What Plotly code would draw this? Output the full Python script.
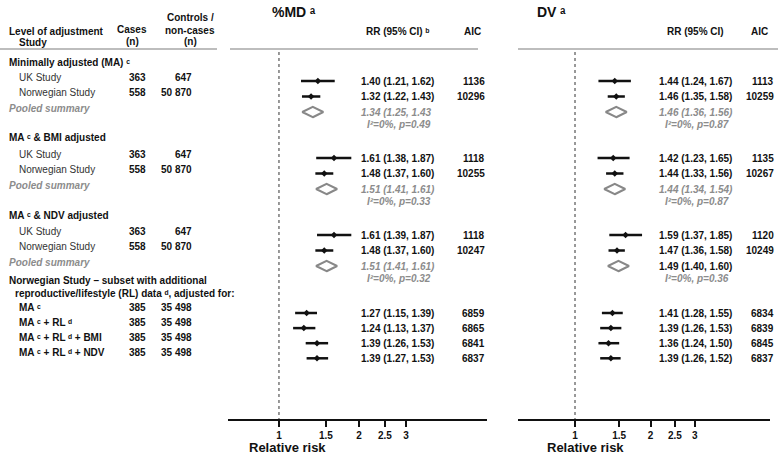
import plotly.graph_objects as go

W, H = 778, 455

# ---------------- data ----------------
group_titles = ["Minimally adjusted (MA) \u1d9c",
                "MA \u1d9c & BMI adjusted",
                "MA \u1d9c & NDV adjusted"]
study_names = ["UK Study", "Norwegian Study"]
study_cases = ["363", "558"]
study_controls = ["647", "50 870"]

subset_title_1 = "Norwegian Study \u2013 subset with additional"
subset_title_2 = "reproductive/lifestyle (RL) data \u1d48, adjusted for:"
subset_names = ["MA \u1d9c", "MA \u1d9c + RL \u1d48",
                "MA \u1d9c + RL \u1d48 + BMI", "MA \u1d9c + RL \u1d48 + NDV"]
subset_cases = ["385", "385", "385", "385"]
subset_controls = ["35 498", "35 498", "35 498", "35 498"]

# %MD : per group [UK, Norwegian]
md_rr = [[1.40, 1.32], [1.61, 1.48], [1.61, 1.48]]
md_lo = [[1.21, 1.22], [1.38, 1.37], [1.39, 1.37]]
md_hi = [[1.62, 1.43], [1.87, 1.60], [1.87, 1.60]]
md_aic = [["1136", "10296"], ["1118", "10255"], ["1118", "10247"]]
md_pool_rr = [1.34, 1.51, 1.51]
md_pool_lo = [1.25, 1.41, 1.41]
md_pool_hi = [1.43, 1.61, 1.61]
md_pool_txt = ["1.34 (1.25, 1.43", "1.51 (1.41, 1.61)", "1.51 (1.41, 1.61)"]
md_pool_het = ["I\u00b2=0%, p=0.49", "I\u00b2=0%, p=0.33", "I\u00b2=0%, p=0.32"]
md_sub_rr = [1.27, 1.24, 1.39, 1.39]
md_sub_lo = [1.15, 1.13, 1.26, 1.27]
md_sub_hi = [1.39, 1.37, 1.53, 1.53]
md_sub_aic = ["6859", "6865", "6841", "6837"]

# DV
dv_rr = [[1.44, 1.46], [1.42, 1.44], [1.59, 1.47]]
dv_lo = [[1.24, 1.35], [1.23, 1.33], [1.37, 1.36]]
dv_hi = [[1.67, 1.58], [1.65, 1.56], [1.85, 1.58]]
dv_aic = [["1113", "10259"], ["1135", "10267"], ["1120", "10249"]]
dv_pool_rr = [1.46, 1.44, 1.49]
dv_pool_lo = [1.36, 1.34, 1.40]
dv_pool_hi = [1.56, 1.54, 1.60]
dv_pool_txt = ["1.46 (1.36, 1.56)", "1.44 (1.34, 1.54)", "1.49 (1.40, 1.60)"]
dv_pool_italic = [True, True, False]
dv_pool_het = ["I\u00b2=0%, p=0.87", "I\u00b2=0%, p=0.87", "I\u00b2=0%, p=0.36"]
dv_sub_rr = [1.41, 1.39, 1.36, 1.39]
dv_sub_lo = [1.28, 1.26, 1.24, 1.26]
dv_sub_hi = [1.55, 1.53, 1.50, 1.52]
dv_sub_aic = ["6834", "6839", "6845", "6837"]

tick_vals = [1, 1.5, 2, 2.5, 3]
tick_text = ["1", "1.5", "2", "2.5", "3"]
axis_title = "Relative risk"

# ---------------- layout helpers ----------------
FONT = "Liberation Sans, Arial, DejaVu Sans, sans-serif"
BLACK = "#111111"
GREY = "#8c8c8c"
group_top = [81, 158, 235]
pitch = 15.5
sub_top = 313
sub_pitch = 15.1
LEFT_SHIFT = -4

def gy(g, i):
    return group_top[g] + i * pitch

def sy(i):
    return sub_top + i * sub_pitch

def px(x):
    return x / W

ann = []

def text(x, y, s, anchor="left", size=10, color=BLACK, bold=True, italic=False, paper_y=False):
    if bold:
        s = "<b>" + s + "</b>"
    if italic:
        s = "<i>" + s + "</i>"
    ann.append(dict(x=px(x), y=(1 - y / H) if paper_y else y, xref="paper",
                    yref="paper" if paper_y else "y", text=s, showarrow=False,
                    xanchor=anchor, yanchor="middle",
                    font=dict(family=FONT, size=size, color=color)))

fig = go.Figure()

# ---------------- left table ----------------
text(7, 31, "Level of adjustment")
text(17, 42, "Study")
text(132, 29, "Cases", "center")
text(132, 41, "(n)", "center")
text(190, 17, "Controls /", "center")
text(190, 30, "non-cases", "center")
text(190, 41, "(n)", "center")

title_y = [62, 137, 215]
for g in range(3):
    text(7, title_y[g], group_titles[g])
    for i in range(2):
        y = gy(g, i) + LEFT_SHIFT
        text(17, y, study_names[i], bold=False, color="#333333")
        text(148, y, study_cases[i], "right")
        text(194, y, study_controls[i], "right")
    text(7, gy(g, 2) + LEFT_SHIFT, "Pooled summary", color=GREY, italic=True)

text(7, 280, subset_title_1)
text(13, 293, subset_title_2)
for i in range(4):
    y = sy(i) - 6
    text(17, y, subset_names[i])
    text(148, y, subset_cases[i], "right")
    text(194, y, subset_controls[i], "right")

# ---------------- forest panels ----------------
panels = [
    dict(xa="x", title="%MD \u1d43", title_x=270, rrh="RR (95% CI) \u1d47", rrx=359, aicx=487,
         aich_x=472, axt_x=247, rr=md_rr, lo=md_lo, hi=md_hi, aic=md_aic, prr=md_pool_rr, plo=md_pool_lo,
         phi=md_pool_hi, ptxt=md_pool_txt, pit=[True, True, True], phet=md_pool_het,
         srr=md_sub_rr, slo=md_sub_lo, shi=md_sub_hi, saic=md_sub_aic),
    dict(xa="x2", title="DV \u1d43", title_x=535, rrh="RR (95% CI)", rrx=657, aicx=776,
         aich_x=759, axt_x=545, rr=dv_rr, lo=dv_lo, hi=dv_hi, aic=dv_aic, prr=dv_pool_rr, plo=dv_pool_lo,
         phi=dv_pool_hi, ptxt=dv_pool_txt, pit=dv_pool_italic, phet=dv_pool_het,
         srr=dv_sub_rr, slo=dv_sub_lo, shi=dv_sub_hi, saic=dv_sub_aic),
]

for p in panels:
    text(p["title_x"], 12, p["title"], size=14)
    hdr_c = p["rrx"] + 38
    text(hdr_c, 31, p["rrh"], "center")
    text(p["aich_x"], 31, "AIC", "center")
    text(p["axt_x"], 447, axis_title, size=13, paper_y=True)

    xs, ys, lx, ly = [], [], [], []
    for g in range(3):
        for i in range(2):
            y = gy(g, i)
            xs.append(p["rr"][g][i]); ys.append(y)
            lx += [p["lo"][g][i], p["hi"][g][i], None]
            ly += [y, y, None]
            text(p["rrx"], y, "%.2f (%.2f, %.2f)" % (p["rr"][g][i], p["lo"][g][i], p["hi"][g][i]))
            text(p["aicx"], y, p["aic"][g][i], "right")
        yp = gy(g, 2)
        fig.add_trace(go.Scatter(x=[p["prr"][g]], y=[yp], xaxis=p["xa"], yaxis="y", mode="markers",
                                 marker=dict(symbol="diamond-wide-open", size=15,
                                             line=dict(color="#888888", width=2), color="#888888"),
                                 showlegend=False, hoverinfo="skip"))
        if p["pit"][g]:
            text(p["rrx"], yp, p["ptxt"][g], color=GREY, italic=True)
        else:
            text(p["rrx"], yp, p["ptxt"][g])
        text(p["rrx"] + 40, yp + 12, p["phet"][g], "center", color=GREY, italic=True)
    for i in range(4):
        y = sy(i)
        xs.append(p["srr"][i]); ys.append(y)
        lx += [p["slo"][i], p["shi"][i], None]
        ly += [y, y, None]
        text(p["rrx"], y, "%.2f (%.2f, %.2f)" % (p["srr"][i], p["slo"][i], p["shi"][i]))
        text(p["aicx"], y, p["saic"][i], "right")

    fig.add_trace(go.Scatter(x=lx, y=ly, xaxis=p["xa"], yaxis="y", mode="lines",
                             line=dict(color=BLACK, width=2.5), showlegend=False, hoverinfo="skip"))
    fig.add_trace(go.Scatter(x=xs, y=ys, xaxis=p["xa"], yaxis="y", mode="markers",
                             marker=dict(symbol="diamond", size=5, color=BLACK),
                             showlegend=False, hoverinfo="skip"))
    # reference line at RR = 1
    fig.add_shape(type="line", xref=p["xa"], yref="y", x0=1, x1=1, y0=52, y1=419,
                  line=dict(color="#333333", width=1, dash="dot"))

# header separator lines
for x0, x1 in [(0, 217), (230, 478), (518, 778)]:
    fig.add_shape(type="line", xref="paper", yref="y", x0=px(x0), x1=px(x1), y0=49, y1=49,
                  line=dict(color="#bdbdbd", width=2))

xcommon = dict(type="log", showgrid=False, zeroline=False, showline=True, linecolor=BLACK,
               linewidth=2, ticks="outside", ticklen=6, tickwidth=2, tickcolor=BLACK,
               tickvals=tick_vals, ticktext=tick_text, anchor="y",
               tickfont=dict(family=FONT, size=10, color=BLACK, weight="bold"))

fig.update_layout(
    width=W, height=H, margin=dict(l=0, r=0, t=0, b=0),
    paper_bgcolor="white", plot_bgcolor="white", showlegend=False,
    xaxis=dict(domain=[228 / W, 487 / W], range=[-0.1916, 0.7818], **xcommon),
    xaxis2=dict(domain=[518 / W, 770 / W], range=[-0.2271, 0.7770], **xcommon),
    yaxis=dict(domain=[36 / H, 1], range=[419, 0], visible=False, fixedrange=True),
    annotations=ann,
)

fig.write_html("out.html", config={"displayModeBar": False},
               post_script="document.body.style.margin='0';document.body.style.overflow='hidden';")
